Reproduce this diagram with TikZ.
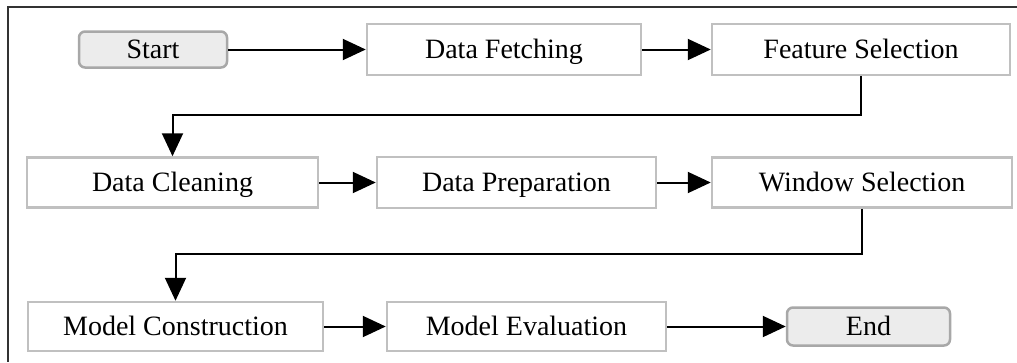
\documentclass[tikz,border=0pt]{standalone}
\usepackage{fontspec}
\setmainfont{Liberation Serif}
\usetikzlibrary{arrows.meta}
\definecolor{boxgray}{HTML}{C0C0C0}
\definecolor{termfill}{HTML}{ECECEC}
\definecolor{termdraw}{HTML}{A8A8A8}
\definecolor{framecol}{HTML}{333333}
\tikzset{
  stepbox/.style={draw=boxgray, line width=2.5pt, fill=white, inner sep=0pt,
    text height=18pt, text depth=0pt,
    font=\fontsize{28}{33}\selectfont},
  termbox/.style={draw=termdraw, line width=2.5pt, fill=termfill, rounded corners=6pt,
    inner sep=0pt, text height=18pt, text depth=0pt,
    font=\fontsize{28}{33}\selectfont},
  flow/.style={draw=black, line width=2pt, -{Triangle[length=23pt,width=21pt]}},
}
\begin{document}
\begin{tikzpicture}[x=1pt,y=-1pt]
\useasboundingbox (0,0) rectangle (1017,362);
% outer frame (top and left)
\draw[framecol, line width=1.5pt] (1017,7) -- (8,7) -- (8,362);
% row 1
\node[termbox, minimum width=148pt, minimum height=36pt] (start) at (153,49.5) {Start};
\node[stepbox, minimum width=274pt, minimum height=51pt] (df) at (504,49.5) {Data Fetching};
\node[stepbox, minimum width=298pt, minimum height=51pt] (fs) at (861,49.5) {Feature Selection};
% row 2
\node[stepbox, minimum width=291pt, minimum height=50pt] (dc) at (172.5,182.5) {Data Cleaning};
\node[stepbox, minimum width=279pt, minimum height=51pt] (dp) at (516.5,182.5) {Data Preparation};
\node[stepbox, minimum width=300pt, minimum height=50pt] (ws) at (862,182.5) {Window Selection};
% row 3
\node[stepbox, minimum width=295pt, minimum height=49pt] (mc) at (175.5,326.5) {Model Construction};
\node[stepbox, minimum width=279pt, minimum height=49pt] (me) at (526.5,326.5) {Model Evaluation};
\node[termbox, minimum width=163pt, minimum height=38pt] (end) at (868.5,326.5) {End};
% bends
\coordinate (k1) at (172.5,115);
\coordinate (k2) at (175.5,254);
% connectors
\draw[flow] (start.east) -- (df.west);
\draw[flow] (df.east) -- (fs.west);
\draw[flow] (fs.south) |- (k1) -- (dc.north);
\draw[flow] (dc.east) -- (dp.west);
\draw[flow] (dp.east) -- (ws.west);
\draw[flow] (ws.south) |- (k2) -- (mc.north);
\draw[flow] (mc.east) -- (me.west);
\draw[flow] (me.east) -- (end.west);
\end{tikzpicture}
\end{document}
